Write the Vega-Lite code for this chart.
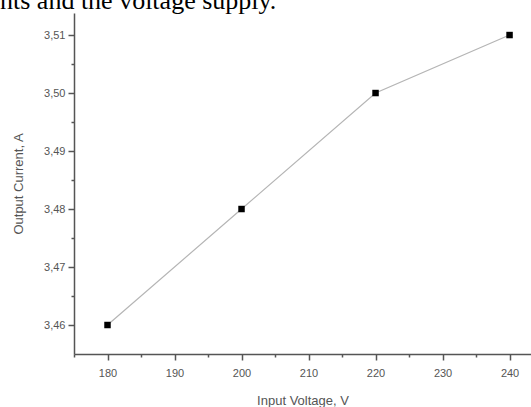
{
  "$schema": "https://vega.github.io/schema/vega-lite/v6.json",
  "width": 457,
  "height": 341,
  "autosize": "none",
  "padding": {"left": 74, "top": 13, "right": 0, "bottom": 53},
  "background": "white",
  "config": {
    "view": {"stroke": null},
    "locale": {"number": {"decimal": ",", "thousands": ".", "grouping": [3], "currency": ["", ""]}},
    "axis": {
      "grid": false,
      "domainColor": "#555555",
      "domainWidth": 1.5,
      "tickColor": "#555555",
      "tickWidth": 1.5,
      "labelFont": "Liberation Sans",
      "labelFontSize": 11,
      "labelColor": "#555555",
      "titleFont": "Liberation Sans",
      "titleFontSize": 13,
      "titleFontWeight": "normal",
      "titleColor": "#555555"
    }
  },
  "title": {
    "text": "nts and the voltage supply.",
    "font": "Liberation Serif",
    "fontSize": 26,
    "fontWeight": "normal",
    "color": "#000000",
    "anchor": "start",
    "frame": "group",
    "baseline": "alphabetic",
    "dx": -74,
    "dy": 6,
    "offset": -16
  },
  "data": {"values": [
    {"voltage": 180, "current": 3.46},
    {"voltage": 200, "current": 3.48},
    {"voltage": 220, "current": 3.50},
    {"voltage": 240, "current": 3.51}
  ]},
  "resolve": {"axis": {"x": "independent", "y": "independent"}},
  "layer": [
    {
      "mark": {"type": "point", "opacity": 0},
      "encoding": {
        "x": {"field": "voltage", "type": "quantitative", "scale": {"domain": [175, 243.2], "nice": false, "zero": false},
          "axis": {"orient": "bottom", "values": [175, 185, 195, 205, 215, 225, 235], "labels": false, "tickSize": 3, "title": null, "domain": false}},
        "y": {"field": "current", "type": "quantitative", "scale": {"domain": [3.455, 3.5138], "nice": false, "zero": false},
          "axis": {"orient": "left", "values": [3.465, 3.475, 3.485, 3.495, 3.505], "labels": false, "tickSize": 3, "title": null, "domain": false}}
      }
    },
    {
      "mark": {"type": "line", "color": "#b5b5b5", "strokeWidth": 1.2},
      "encoding": {
        "x": {"field": "voltage", "type": "quantitative",
          "axis": {"orient": "bottom", "values": [180, 190, 200, 210, 220, 230, 240], "tickSize": 6, "labelPadding": 7, "title": "Input Voltage, V", "titlePadding": 16}},
        "y": {"field": "current", "type": "quantitative",
          "axis": {"orient": "left", "values": [3.46, 3.47, 3.48, 3.49, 3.5, 3.51], "format": ".2f", "tickSize": 6, "labelPadding": 3, "title": "Output Current, A", "titlePadding": 18}}
      }
    },
    {
      "mark": {"type": "square", "color": "#000000", "opacity": 1, "size": 42},
      "encoding": {
        "x": {"field": "voltage", "type": "quantitative", "axis": null},
        "y": {"field": "current", "type": "quantitative", "axis": null}
      }
    }
  ]
}
